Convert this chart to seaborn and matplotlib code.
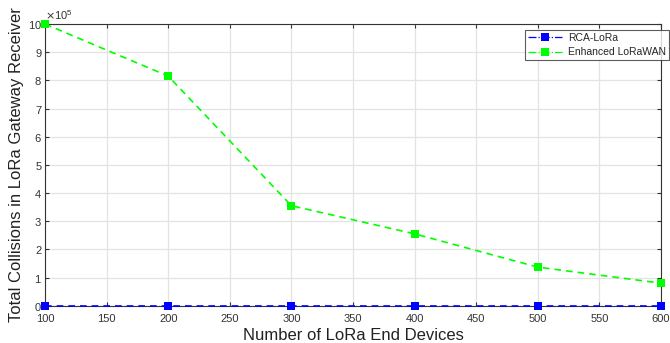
import matplotlib
matplotlib.use("Agg")
import matplotlib.pyplot as plt
import seaborn as sns
import pandas as pd
from matplotlib.ticker import ScalarFormatter
from matplotlib.lines import Line2D

devices = [100, 200, 300, 400, 500, 600]
rca_lora = [0, 0, 0, 0, 0, 0]
enhanced_lorawan = [1000000, 815000, 355000, 255000, 137000, 80000]
x_ticks = [100, 150, 200, 250, 300, 350, 400, 450, 500, 550, 600]
y_ticks = [0, 100000, 200000, 300000, 400000, 500000, 600000, 700000, 800000, 900000, 1000000]

sns.set_style("whitegrid")
plt.rcParams['font.family'] = ['Liberation Sans', 'DejaVu Sans']

df = pd.DataFrame({
    "devices": devices * 2,
    "collisions": rca_lora + enhanced_lorawan,
    "series": ["RCA-LoRa"] * len(devices) + ["Enhanced LoRaWAN"] * len(devices),
})

fig = plt.figure(figsize=(6.7, 3.43), dpi=100)
ax = fig.add_axes([45/670, 1-305.7/343, 616/670, (305.7-24)/343])

sns.lineplot(data=df, x="devices", y="collisions", hue="series",
             palette={"RCA-LoRa": "#0000ff", "Enhanced LoRaWAN": "#00ff00"},
             marker="s", markersize=6, markeredgewidth=0, linewidth=1.2,
             ax=ax, legend=False)
for line in ax.get_lines():
    line.set_dashes([4, 3])
    line.set_clip_on(False)
    line.set_zorder(3)

ax.set_xlim(100, 600)
ax.set_ylim(0, 1000000)
ax.set_xticks(x_ticks)
ax.set_yticks(y_ticks)
fmt = ScalarFormatter(useMathText=True)
fmt.set_powerlimits((5, 5))
ax.yaxis.set_major_formatter(fmt)
ax.yaxis.get_offset_text().set_fontsize(8)
ax.yaxis.get_offset_text().set_color("#333333")
ax.tick_params(axis="both", labelsize=8, colors="#333333", direction="in", length=3, width=0.8,
               top=True, right=True, left=True, bottom=True)
ax.tick_params(axis="x", pad=6)
ax.tick_params(axis="y", pad=2)
ax.grid(True, color="#e3e3e3", linewidth=0.9)
for s in ax.spines.values():
    s.set_color("#333333")
    s.set_linewidth(0.8)
ax.set_xlabel("Number of LoRa End Devices", fontsize=12, color="#222222", labelpad=3)
ax.set_ylabel("Total Collisions in LoRa Gateway Receiver", fontsize=12, color="#222222", labelpad=3)

handles = [
    Line2D([], [], color="#0000ff", marker="s", markersize=6, markeredgewidth=0, linestyle="-.", linewidth=0.9),
    Line2D([], [], color="#00ff00", marker="s", markersize=6, markeredgewidth=0, linestyle="-.", linewidth=0.9),
]
leg = ax.legend(handles, ["RCA-LoRa", "Enhanced LoRaWAN"], loc="upper right",
                bbox_to_anchor=(1.013, 0.979), fontsize=7.5, frameon=True, fancybox=False,
                borderpad=0.3, handlelength=3.2, handletextpad=0.6, labelspacing=0.4,
                borderaxespad=0.0)
leg.get_frame().set_edgecolor("#333333")
leg.get_frame().set_linewidth(0.8)
leg.set_zorder(5)

fig.savefig("out.png", dpi=100)
